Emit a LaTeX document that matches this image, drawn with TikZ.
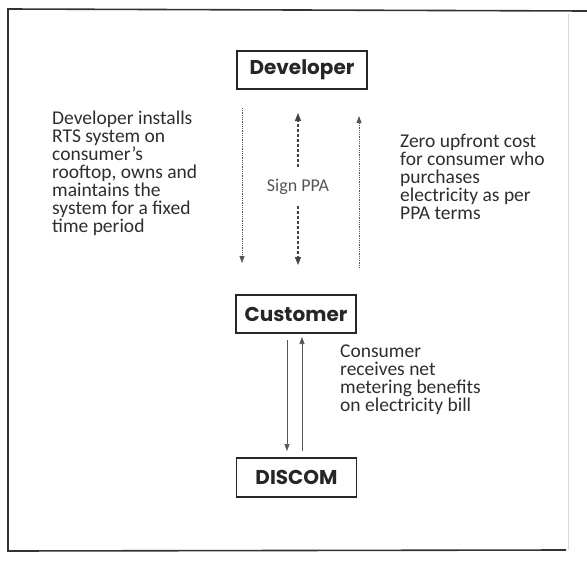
\documentclass[tikz,border=0pt]{standalone}
\usepackage{fontspec}
\setmainfont{Carlito}
\newfontfamily\boxfont{Poppins}
\usetikzlibrary{arrows.meta}
\definecolor{txt}{HTML}{2E2E2E}
\definecolor{arr}{HTML}{555555}
\tikzset{
  boxnode/.style={draw=black!85, line width=1.3pt, inner sep=0pt, font=\boxfont\bfseries\fontsize{20}{22}\selectfont, text=black!85},
  desc/.style={anchor=north west, align=left, font=\fontsize{19.5}{18}\selectfont, text=txt, inner sep=0pt},
  thinarrow/.style={draw=arr, line width=0.7pt, -{Triangle[length=7pt,width=5pt]}},
  dotarrow/.style={thinarrow, line width=0.9pt, dash pattern=on 1pt off 0.8pt},
  dasharrow/.style={draw=arr!80!black, line width=1.2pt, dash pattern=on 3pt off 2pt, -{Triangle[length=8pt,width=6pt]}},
}
\begin{document}
\begin{tikzpicture}[x=1pt,y=-1pt]
\useasboundingbox (0,0) rectangle (587,565);
% frame
\draw[black!80, line width=1.6pt] (587,11) -- (8,9) -- (8,551) -- (566,550);
\draw[black!15, line width=0.8pt] (568,14) -- (568,550);
% boxes
\node[boxnode, minimum width=130pt, minimum height=38pt] (dev) at (302,70) {Developer};
\node[boxnode, minimum width=120pt, minimum height=38pt] (cus) at (296,314) {Customer};
\node[boxnode, minimum width=120pt, minimum height=39pt] (dis) at (296.5,477.5) {DISCOM};
% arrow endpoints
\coordinate (l1) at (242,108); \coordinate (l2) at (242,263);
\coordinate (m1) at (298,113); \coordinate (m2) at (298,167);
\coordinate (m3) at (298,206); \coordinate (m4) at (298,265);
\coordinate (r1) at (359,268); \coordinate (r2) at (359,116);
\coordinate (d1) at (287,340); \coordinate (d2) at (287,451);
\coordinate (u1) at (302,451); \coordinate (u2) at (302,337);
\draw[dotarrow] (l1) -- (l2);
\draw[dasharrow] (m2) -- (m1);
\draw[dasharrow] (m3) -- (m4);
\node[font=\fontsize{18}{20}\selectfont, text=arr] (sign) at (298,187) {Sign PPA};
\draw[dotarrow] (r1) -- (r2);
\draw[thinarrow] (d1) -- (d2);
\draw[thinarrow] (u1) -- (u2);
% descriptions
\node[desc] (t1) at (52,111) {Developer installs\\RTS system on\\consumer’s\\rooftop, owns and\\maintains the\\system for a fixed\\time period};
\node[desc] (t2) at (400,134) {Zero upfront cost\\for consumer who\\purchases\\electricity as per\\PPA terms};
\node[desc] (t3) at (340,345) {Consumer\\receives net\\metering benefits\\on electricity bill};
\end{tikzpicture}
\end{document}
